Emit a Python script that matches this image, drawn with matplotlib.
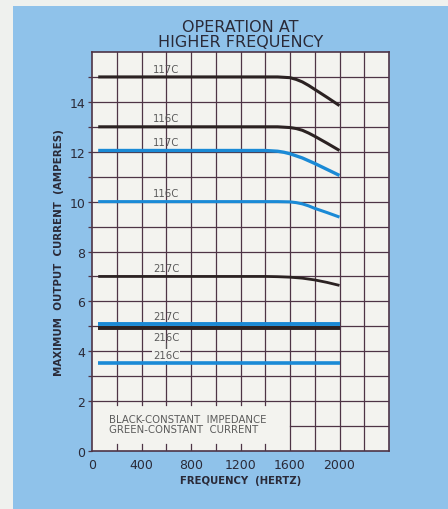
import matplotlib
matplotlib.use("Agg")
import matplotlib.pyplot as plt
from matplotlib.patches import Rectangle
import numpy as np

# curve data (frequency in Hz, current in amperes)
k117_x = [50, 1500, 1600, 1650, 1700, 1750, 1800, 1900, 2000]
k117_y = [15.0, 15.0, 14.97, 14.9, 14.8, 14.66, 14.5, 14.18, 13.85]
k116_x = [50, 1500, 1600, 1650, 1700, 1750, 1800, 1900, 2000]
k116_y = [13.0, 13.0, 12.97, 12.93, 12.86, 12.75, 12.62, 12.34, 12.05]
b117_x = [50, 1400, 1500, 1550, 1600, 1700, 1800, 1900, 2000]
b117_y = [12.05, 12.05, 12.02, 11.98, 11.92, 11.75, 11.53, 11.29, 11.05]
b116_x = [50, 1500, 1600, 1650, 1700, 1750, 1800, 1900, 2000]
b116_y = [10.0, 10.0, 9.99, 9.96, 9.91, 9.83, 9.73, 9.56, 9.38]
k217_x = [50, 1400, 1500, 1600, 1700, 1800, 1900, 2000]
k217_y = [7.0, 7.0, 6.99, 6.97, 6.93, 6.86, 6.76, 6.64]
b217_x = [50, 2000]
b217_y = [5.08, 5.08]
k216_x = [50, 2000]
k216_y = [4.93, 4.93]
b216_x = [50, 2000]
b216_y = [3.52, 3.52]

x_ticks = [0, 400, 800, 1200, 1600, 2000]
y_ticks = [0, 2, 4, 6, 8, 10, 12, 14]

BLACK = "#2b2222"
BLUE = "#1a8ad6"
GRID = "#4e3446"
PANEL = "#8fc2ea"
PLOT_BG = "#f3f3ef"
TXT = "#2a2a38"
LBL = "#5a5a5a"

fig = plt.figure(figsize=(4.48, 5.10), dpi=100)
fig.patch.set_facecolor("#eff1ee")
fig.patches.append(Rectangle((0.029, 0.0), 0.971, 0.986, transform=fig.transFigure,
                             facecolor=PANEL, edgecolor="none", zorder=-10))

ax = fig.add_axes([0.2054, 0.1137, 0.6629, 0.7824])
ax.set_facecolor(PLOT_BG)
ax.set_xlim(0, 2400)
ax.set_ylim(0, 16)

# grid: white box bottom-left keeps only short ticks
for gx in range(200, 2400, 200):
    if gx < 1600:
        ax.plot([gx, gx], [2, 16], color=GRID, lw=0.9, zorder=1)
        ax.plot([gx, gx], [1.85, 2], color=GRID, lw=0.9, zorder=1)
        ax.plot([gx, gx], [0, 0.3], color=GRID, lw=0.9, zorder=1)
    else:
        ax.plot([gx, gx], [0, 16], color=GRID, lw=0.9, zorder=1)
for gy in range(2, 16):
    ax.axhline(gy, color=GRID, lw=0.9, zorder=1)
ax.plot([1600, 2400], [1, 1], color=GRID, lw=0.9, zorder=1)

for s in ax.spines.values():
    s.set_color(GRID)
    s.set_linewidth(1.2)

style = dict(zorder=3, solid_capstyle="butt", solid_joinstyle="round")
ax.plot(k117_x, k117_y, color=BLACK, lw=2.2, **style)
ax.plot(k116_x, k116_y, color=BLACK, lw=2.2, **style)
ax.plot(b117_x, b117_y, color=BLUE, lw=2.4, **style)
ax.plot(b116_x, b116_y, color=BLUE, lw=2.2, **style)
ax.plot(k217_x, k217_y, color=BLACK, lw=2.0, **style)
ax.plot(b217_x, b217_y, color=BLUE, lw=2.8, **style)
ax.plot(k216_x, k216_y, color=BLACK, lw=2.8, **style)
ax.plot(b216_x, b216_y, color=BLUE, lw=2.6, **style)

lab = dict(ha="center", va="center", fontsize=7.3, color=LBL, zorder=4)
ax.text(600, 15.3, "117C", **lab)
ax.text(600, 13.35, "116C", **lab)
ax.text(600, 12.4, "117C", **lab)
ax.text(600, 10.35, "116C", **lab)
ax.text(600, 7.35, "217C", **lab)
ax.text(600, 5.4, "217C", **lab)
ax.text(600, 4.58, "216C", **lab)
ax.plot([600, 600], [4.1, 4.35], color=LBL, lw=0.8, zorder=4)
ax.text(600, 3.85, "216C", bbox=dict(boxstyle="square,pad=0.1", fc=PLOT_BG, ec="none"), **lab)

ax.text(137, 1.08, "BLACK-CONSTANT  IMPEDANCE\nGREEN-CONSTANT  CURRENT", ha="left", va="center",
        fontsize=7.3, color=LBL, linespacing=1.0, zorder=4)

ax.set_xticks(x_ticks)
ax.set_yticks(y_ticks)
ax.set_yticks(range(3, 16, 2), minor=True)
ax.set_xticklabels([str(v) for v in x_ticks], fontsize=9, color=TXT)
ax.set_yticklabels([str(v) for v in y_ticks], fontsize=9, color=TXT)
ax.tick_params(axis="x", length=0, pad=5)
ax.tick_params(axis="y", which="both", length=3, width=0.9, color=GRID, pad=2)

ax.set_xlabel("FREQUENCY  (HERTZ)", fontsize=7.3, fontweight="bold", color=TXT, labelpad=3)
ax.set_ylabel("MAXIMUM  OUTPUT  CURRENT  (AMPERES)", fontsize=7.4, fontweight="bold", color=TXT, labelpad=4)
ax.set_title("OPERATION AT\nHIGHER FREQUENCY", fontsize=11.5, color=TXT, linespacing=1.0, pad=4)

fig.savefig("out.png", dpi=100, facecolor=fig.get_facecolor())
